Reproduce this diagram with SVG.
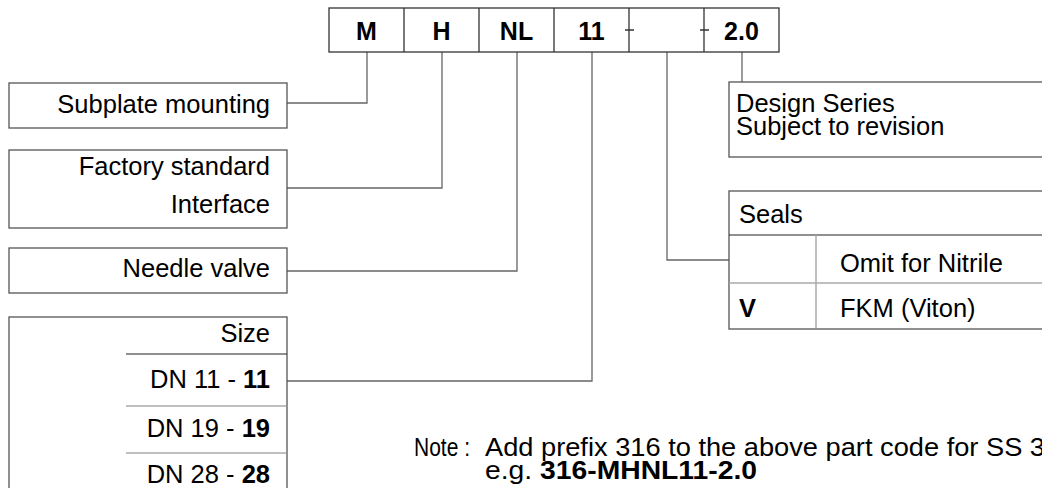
<svg xmlns="http://www.w3.org/2000/svg" width="1042" height="488" viewBox="0 0 1042 488">
<style>
.box{fill:#fff;stroke:#555;stroke-width:1.3}
.cell{fill:none;stroke:#333;stroke-width:1.3}
.con{fill:none;stroke:#666;stroke-width:1.3}
.sep{stroke:#222;stroke-width:1.2}
.sepl{stroke:#aaa;stroke-width:1.5}
text{font-family:"Liberation Sans",Arial,sans-serif;font-size:25.5px;fill:#000}
.code{font-weight:bold;font-size:25px;text-anchor:middle}
.r{text-anchor:end}
.b{font-weight:bold}
.note{font-size:26px}
</style>
<rect width="1042" height="488" fill="#fff"/>
<g id="connectors">
<path class="con" d="M287,103H367V52"/>
<path class="con" d="M287,188H442V52"/>
<path class="con" d="M287,271H517V52"/>
<path class="con" d="M287,381H592V52"/>
<path class="con" d="M729,260H667V52"/>
<path class="con" d="M742,52V82"/>
</g>
<g id="code">
<rect class="cell" x="329" y="8" width="450" height="44"/>
<path class="cell" d="M404,8V52M479,8V52M554,8V52M629,8V52M704,8V52M625,30H634M700,30H709"/>
<text class="code" x="366.5" y="39.5">M</text>
<text class="code" x="441.5" y="39.5">H</text>
<text class="code" x="516.5" y="39.5">NL</text>
<text class="code" x="591.5" y="39.5">11</text>
<text class="code" x="741.5" y="39.5">2.0</text>
</g>
<g id="subplate">
<rect class="box" x="9" y="83" width="278" height="45"/>
<text class="r" x="270" y="113">Subplate mounting</text>
</g>
<g id="factory">
<rect class="box" x="9" y="150" width="278" height="78"/>
<text class="r" x="270" y="175">Factory standard</text>
<text class="r" x="270" y="213">Interface</text>
</g>
<g id="needle">
<rect class="box" x="9" y="248" width="278" height="45"/>
<text class="r" x="270" y="277">Needle valve</text>
</g>
<g id="size">
<rect class="box" x="9" y="317" width="278" height="190"/>
<line class="sep" x1="126" y1="354" x2="287" y2="354"/>
<line class="sepl" x1="126" y1="406" x2="286" y2="406"/>
<line class="sepl" x1="126" y1="453" x2="286" y2="453"/>
<text class="r" x="270" y="342">Size</text>
<text class="r" x="270" y="388">DN 11 - <tspan class="b">11</tspan></text>
<text class="r" x="270" y="437">DN 19 - <tspan class="b">19</tspan></text>
<text class="r" x="270" y="483">DN 28 - <tspan class="b">28</tspan></text>
</g>
<g id="design">
<rect class="box" x="729" y="82" width="330" height="75"/>
<text x="736" y="112">Design Series</text>
<text x="736" y="135">Subject to revision</text>
</g>
<g id="seals">
<rect class="box" x="729" y="191" width="330" height="138"/>
<line class="sep" x1="729" y1="235" x2="1042" y2="235"/>
<line class="sepl" x1="729" y1="283" x2="1042" y2="283"/>
<line class="sepl" x1="816" y1="235" x2="816" y2="328"/>
<text x="739" y="223">Seals</text>
<text x="840" y="272">Omit for Nitrile</text>
<text class="b" x="739" y="317">V</text>
<text x="840" y="317">FKM (Viton)</text>
</g>
<g id="note">
<text class="note" x="414" y="456" textLength="56" lengthAdjust="spacingAndGlyphs">Note :</text>
<text class="note" x="485" y="456" textLength="560" lengthAdjust="spacingAndGlyphs">Add prefix 316 to the above part code for SS 3</text>
<text class="note" x="485" y="479" textLength="272" lengthAdjust="spacingAndGlyphs">e.g. <tspan class="b">316-MHNL11-2.0</tspan></text>
</g>
</svg>
